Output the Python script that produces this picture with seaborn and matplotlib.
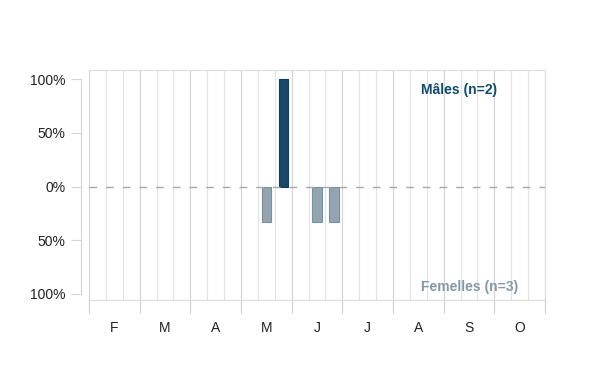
import numpy as np
import pandas as pd
import matplotlib
matplotlib.use("Agg")
from matplotlib import pyplot as plt
import seaborn as sns

# months shown on the axis, each split in 3 decades (dekads)
months = ["F", "M", "A", "M", "J", "J", "A", "S", "O"]
n_dekads = len(months) * 3

# dekad index (0 = 1st decade of February) and share of individuals
males_dekad = [11]
males_share = [1.0]
females_dekad = [10, 13, 14]
females_share = [1 / 3, 1 / 3, 1 / 3]

ytick_vals = [1.0, 0.5, 0.0, -0.5, -1.0]
ytick_labels = ["100%", "50%", "0%", "50%", "100%"]

male_col = "#0c4a72"
female_col = "#8ea6b6"

df = pd.concat([
    pd.DataFrame({"dekad": males_dekad, "value": males_share, "sexe": "Mâles"}),
    pd.DataFrame({"dekad": females_dekad, "value": [-v for v in females_share], "sexe": "Femelles"}),
])

sns.set_style("white")
plt.rcParams["font.family"] = ["Liberation Sans", "DejaVu Sans"]

fig = plt.figure(figsize=(6, 3.9), dpi=100)
ax = fig.add_axes([89 / 600, 1 - 300 / 390, 456 / 600, 230 / 390])

sns.barplot(
    data=df, x="dekad", y="value", hue="sexe",
    order=list(range(n_dekads)),
    palette={"Mâles": male_col, "Femelles": female_col},
    dodge=False, width=0.55, ax=ax, legend=False,
    linewidth=0.8,
)
# darker outline of the same hue
for bar in ax.patches:
    bar.set_edgecolor("#0a3f61" if bar.get_height() > 0 else "#7990a1")

ax.set_xlim(-0.5, n_dekads - 0.5)
ax.set_ylim(-1.056, 1.084)

# dekad grid lines
for b in np.arange(-0.5, n_dekads, 1):
    ax.axvline(b, color="#e3e3e3", lw=0.8, zorder=0)

# month ticks / labels
ax.set_xticks(np.arange(1, n_dekads, 3), labels=months)
ax.set_xticks(np.arange(-0.5, n_dekads + 0.5, 3), minor=True)
ax.tick_params(axis="x", which="major", length=0, pad=15, labelsize=10, labelcolor="#222222")
ax.tick_params(axis="x", which="minor", bottom=True, length=9, color="#cccccc", width=0.8)
ax.grid(axis="x", which="minor", color="#d5d5d5", lw=0.8)
ax.set_axisbelow(True)

ax.set_yticks(ytick_vals, labels=ytick_labels)
ax.tick_params(axis="y", length=7, color="#d5d5d5", width=0.8, pad=4,
               labelsize=10, labelcolor="#222222", left=True)

ax.axhline(0, color="#a8a8a8", lw=1, ls=(0, (5.5, 6.5)), zorder=1)

for side in ["top", "right", "bottom"]:
    ax.spines[side].set_color("#dddddd")
    ax.spines[side].set_linewidth(0.8)
ax.spines["left"].set_position(("outward", 6))
ax.spines["left"].set_bounds(-1, 1)
ax.spines["left"].set_color("#d5d5d5")
ax.spines["left"].set_linewidth(0.8)

ax.set_xlabel("")
ax.set_ylabel("")

ax.text(0.812, 0.915, "Mâles (n=2)", transform=ax.transAxes, ha="center", va="center",
        fontsize=10, fontweight="bold", color=male_col)
ax.text(0.834, 0.058, "Femelles (n=3)", transform=ax.transAxes, ha="center", va="center",
        fontsize=10, fontweight="bold", color="#8497a7")

fig.savefig("out.png", dpi=100)
